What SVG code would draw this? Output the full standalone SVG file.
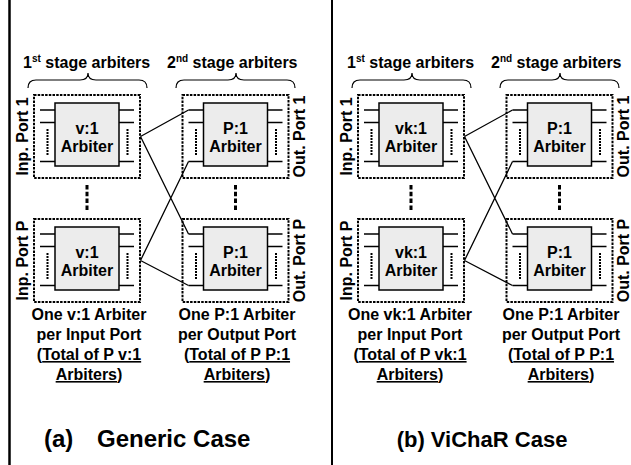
<svg xmlns="http://www.w3.org/2000/svg" xmlns:xlink="http://www.w3.org/1999/xlink" width="631" height="465" viewBox="0 0 631 465">
<style>
text{font-family:"Liberation Sans",Arial,sans-serif;font-weight:bold;fill:#000}
.t{font-size:16px;text-anchor:middle}
.sup{font-size:10px}
.cap{font-size:22px}
.dash{fill:none;stroke:#000;stroke-width:2;stroke-dasharray:2.5 1.2}
.arb{fill:#ececec;stroke:#000;stroke-width:1.5}
.ln{fill:none;stroke:#000;stroke-width:1.3}
.dot{fill:none;stroke:#000;stroke-width:2;stroke-dasharray:2 1}
.vdash{fill:none;stroke:#000;stroke-width:3;stroke-dasharray:4.5 2.3}
.brace{fill:none;stroke:#000;stroke-width:1.2}
.bar{stroke:#000;fill:none}
.u{text-decoration:underline}
</style>
<defs>
<g id="stubs">
<path class="ln" d="M-15,7H0M-15,19.5H0M-15,58.5H0M64,7H79M64,19.5H79M64,58.5H79"/>
<path class="dot" d="M-7.5,26V53M72.5,26V53"/>
</g>
<path id="brace" class="brace" d="M0,9 Q0,1 8,1 L52,1 Q60,1 60,-6 Q60,1 68,1 L111,1 Q119,1 119,9"/>
</defs>

<g id="frame">
<line class="bar" x1="9.5" y1="0" x2="9.5" y2="465" stroke-width="2.5"/>
<line class="bar" x1="332" y1="0" x2="332" y2="465" stroke-width="2"/>
</g>

<g id="panel-a">
<text x="23" y="68" style="font-size:16px">1<tspan class="sup" dy="-6">st</tspan><tspan dy="6"> stage arbiters</tspan></text>
<text x="167" y="68" style="font-size:16px">2<tspan class="sup" dy="-6">nd</tspan><tspan dy="6"> stage arbiters</tspan></text>
<use xlink:href="#brace" transform="translate(28,79)"/>
<use xlink:href="#brace" transform="translate(176,79)"/>

<g id="a-arb1-1" transform="translate(55,103)">
<rect class="dash" x="-21" y="-8" width="106" height="83"/>
<rect class="arb" x="0" y="0" width="64" height="63"/>
<use xlink:href="#stubs"/>
<text class="t" x="32" y="31">v:1</text>
<text class="t" x="32" y="49">Arbiter</text>
</g>
<g id="a-arb1-P" transform="translate(55,227)">
<rect class="dash" x="-21" y="-8" width="106" height="83"/>
<rect class="arb" x="0" y="0" width="64" height="63"/>
<use xlink:href="#stubs"/>
<text class="t" x="32" y="31">v:1</text>
<text class="t" x="32" y="49">Arbiter</text>
</g>
<g id="a-arb2-1" transform="translate(203.5,103)">
<rect class="dash" x="-21" y="-8" width="106" height="83"/>
<rect class="arb" x="0" y="0" width="64" height="63"/>
<use xlink:href="#stubs"/>
<text class="t" x="32" y="31">P:1</text>
<text class="t" x="32" y="49">Arbiter</text>
</g>
<g id="a-arb2-P" transform="translate(203.5,227)">
<rect class="dash" x="-21" y="-8" width="106" height="83"/>
<rect class="arb" x="0" y="0" width="64" height="63"/>
<use xlink:href="#stubs"/>
<text class="t" x="32" y="31">P:1</text>
<text class="t" x="32" y="49">Arbiter</text>
</g>

<text class="t" transform="translate(28,136.5) rotate(-90)">Inp. Port 1</text>
<text class="t" transform="translate(28,260.5) rotate(-90)">Inp. Port P</text>
<text class="t" transform="translate(305,136.5) rotate(-90)">Out. Port 1</text>
<text class="t" transform="translate(305,260.5) rotate(-90)">Out. Port P</text>

<text class="t" x="89" y="320">One v:1 Arbiter</text>
<text class="t" x="89" y="340">per Input Port</text>
<text class="t" x="89" y="360">(<tspan class="u">Total of P v:1</tspan></text>
<text class="t" x="89" y="380"><tspan class="u">Arbiters</tspan>)</text>
<text class="t" x="237" y="320">One P:1 Arbiter</text>
<text class="t" x="237" y="340">per Output Port</text>
<text class="t" x="237" y="360">(<tspan class="u">Total of P P:1</tspan></text>
<text class="t" x="237" y="380"><tspan class="u">Arbiters</tspan>)</text>

<text class="cap" x="44" y="447" style="font-size:24px">(a)<tspan x="97">Generic Case</tspan></text>
</g>

<g id="panel-b">
<text x="347" y="68" style="font-size:16px">1<tspan class="sup" dy="-6">st</tspan><tspan dy="6"> stage arbiters</tspan></text>
<text x="491" y="68" style="font-size:16px">2<tspan class="sup" dy="-6">nd</tspan><tspan dy="6"> stage arbiters</tspan></text>
<use xlink:href="#brace" transform="translate(352,79)"/>
<use xlink:href="#brace" transform="translate(500,79)"/>

<g id="b-arb1-1" transform="translate(379,103)">
<rect class="dash" x="-21" y="-8" width="106" height="83"/>
<rect class="arb" x="0" y="0" width="64" height="63"/>
<use xlink:href="#stubs"/>
<text class="t" x="32" y="31">vk:1</text>
<text class="t" x="32" y="49">Arbiter</text>
</g>
<g id="b-arb1-P" transform="translate(379,227)">
<rect class="dash" x="-21" y="-8" width="106" height="83"/>
<rect class="arb" x="0" y="0" width="64" height="63"/>
<use xlink:href="#stubs"/>
<text class="t" x="32" y="31">vk:1</text>
<text class="t" x="32" y="49">Arbiter</text>
</g>
<g id="b-arb2-1" transform="translate(527.5,103)">
<rect class="dash" x="-21" y="-8" width="106" height="83"/>
<rect class="arb" x="0" y="0" width="64" height="63"/>
<use xlink:href="#stubs"/>
<text class="t" x="32" y="31">P:1</text>
<text class="t" x="32" y="49">Arbiter</text>
</g>
<g id="b-arb2-P" transform="translate(527.5,227)">
<rect class="dash" x="-21" y="-8" width="106" height="83"/>
<rect class="arb" x="0" y="0" width="64" height="63"/>
<use xlink:href="#stubs"/>
<text class="t" x="32" y="31">P:1</text>
<text class="t" x="32" y="49">Arbiter</text>
</g>

<text class="t" transform="translate(352,136.5) rotate(-90)">Inp. Port 1</text>
<text class="t" transform="translate(352,260.5) rotate(-90)">Inp. Port P</text>
<text class="t" transform="translate(629,136.5) rotate(-90)">Out. Port 1</text>
<text class="t" transform="translate(629,260.5) rotate(-90)">Out. Port P</text>

<text class="t" x="410" y="320">One vk:1 Arbiter</text>
<text class="t" x="410" y="340">per Input Port</text>
<text class="t" x="410" y="360">(<tspan class="u">Total of P vk:1</tspan></text>
<text class="t" x="410" y="380"><tspan class="u">Arbiters</tspan>)</text>
<text class="t" x="561" y="320">One P:1 Arbiter</text>
<text class="t" x="561" y="340">per Output Port</text>
<text class="t" x="561" y="360">(<tspan class="u">Total of P P:1</tspan></text>
<text class="t" x="561" y="380"><tspan class="u">Arbiters</tspan>)</text>

<text class="cap" x="482" y="447" text-anchor="middle">(b) ViChaR Case</text>
</g>

<g id="connectors">
<path class="ln" d="M140.5,136.5L188.5,110M140.5,136.5L188.5,234M140.5,260.5L188.5,161.5M140.5,260.5L188.5,285.5"/>
<path class="ln" d="M464.5,136.5L512.5,110M464.5,136.5L512.5,234M464.5,260.5L512.5,161.5M464.5,260.5L512.5,285.5"/>
<path class="vdash" d="M87,185V212M235.5,185V212M411,185V212M559.5,185V212"/>
</g>
</svg>
